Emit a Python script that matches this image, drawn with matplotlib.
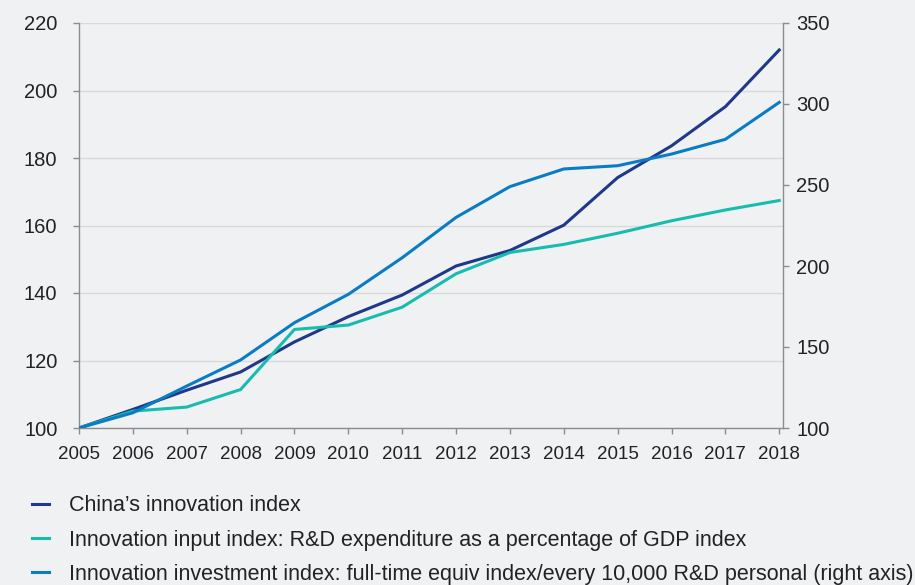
import matplotlib.pyplot as plt
from matplotlib.lines import Line2D

plt.rcParams['font.family'] = ['Liberation Sans', 'DejaVu Sans']

years = list(range(2005, 2019))
innovation_index = [100, 105.5, 111.2, 116.6, 125.5, 133.0, 139.4, 148.0,
                    152.6, 160.1, 174.2, 183.6, 195.2, 212.0]
input_index = [100, 105.0, 106.2, 111.4, 129.2, 130.5, 135.8, 145.7,
               152.0, 154.4, 157.7, 161.4, 164.6, 167.4]
investment_index = [100, 109.4, 125.9, 142.0, 165.0, 182.5, 205.1, 230.0,
                    249.0, 259.9, 261.9, 269.1, 278.2, 301.0]

labels = ["China\u2019s innovation index",
          "Innovation input index: R&D expenditure as a percentage of GDP index",
          "Innovation investment index: full-time equiv index/every 10,000 R&D personal (right axis)"]

c_navy = "#1f3888"
c_teal = "#17bcae"
c_blue = "#0a7cc3"
bg = "#eff1f3"
spine_c = "#8c8c8c"
text_c = "#222222"

fig = plt.figure(figsize=(9.15, 5.85), dpi=100, facecolor=bg)
ax = fig.add_axes([79 / 915, 1 - 428 / 585, (783 - 79) / 915, (428 - 23) / 585])
ax.set_facecolor(bg)
ax2 = ax.twinx()

ax.plot(years, innovation_index, color=c_navy, lw=2.2, zorder=3)
ax.plot(years, input_index, color=c_teal, lw=2.2, zorder=3)
ax2.plot(years, investment_index, color=c_blue, lw=2.2, zorder=3)

ax.set_xlim(2005, 2018.07)
ax.set_ylim(100, 220)
ax.set_yticks(range(100, 221, 20))
ax2.set_ylim(100, 350)
ax2.set_yticks(range(100, 351, 50))
ax.set_xticks(years)

ax.grid(axis='y', color='#d8d9dc', lw=1)
ax.set_axisbelow(True)

for a in (ax, ax2):
    a.spines['top'].set_visible(False)
    for s in ('left', 'right', 'bottom'):
        a.spines[s].set_color(spine_c)
        a.spines[s].set_linewidth(1)
    a.tick_params(colors=spine_c, labelcolor=text_c, length=4.5, width=1)
ax2.spines['left'].set_visible(False)
ax2.spines['bottom'].set_visible(False)
ax.spines['right'].set_visible(False)

ax.tick_params(axis='y', labelsize=14.5, pad=11)
ax2.tick_params(axis='y', labelsize=14.5, pad=5)
ax.tick_params(axis='x', labelsize=13.5, pad=8.5)

# legend under the plot
handles = [Line2D([], [], color=c, lw=2.2) for c in (c_navy, c_teal, c_blue)]
fig.legend(handles, labels, loc='upper left', bbox_to_anchor=(0.035, 0.153),
           frameon=False, fontsize=15.5, handlelength=0.79, handletextpad=0.93,
           labelspacing=0.61, labelcolor=text_c, borderaxespad=0, borderpad=0)

fig.savefig("out.png", dpi=100, facecolor=bg)
